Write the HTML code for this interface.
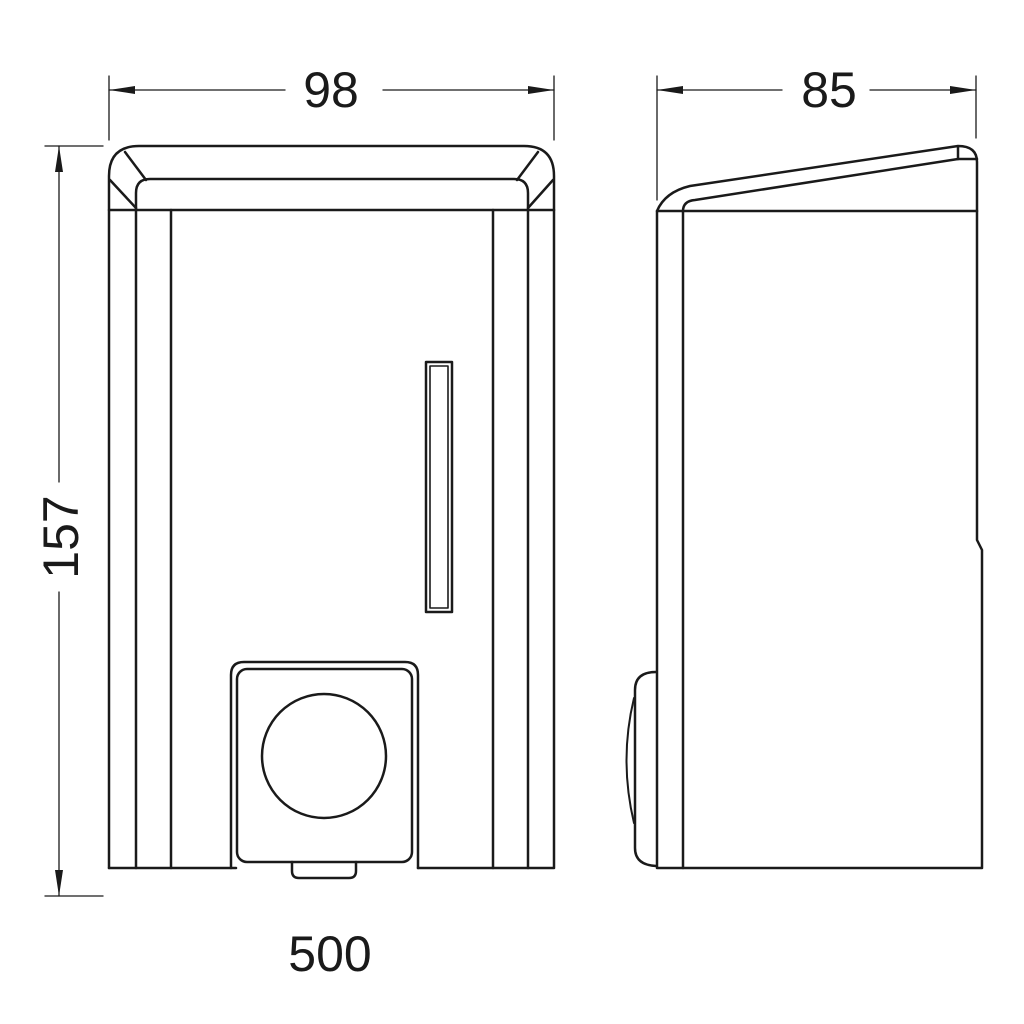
<!DOCTYPE html>
<html><head><meta charset="utf-8"><style>html,body{margin:0;padding:0;background:#fff}svg{display:block}</style></head>
<body>
<svg width="1024" height="1024" viewBox="0 0 1024 1024" xmlns="http://www.w3.org/2000/svg">
<g fill="none" stroke="#1a1a1a" stroke-linecap="round" stroke-linejoin="round">
<g stroke-width="1.3">
<line x1="109" y1="76" x2="109" y2="140"/>
<line x1="554" y1="76" x2="554" y2="140"/>
<line x1="109" y1="90" x2="285" y2="90"/>
<line x1="383" y1="90" x2="554" y2="90"/>
<line x1="657" y1="76" x2="657" y2="200"/>
<line x1="976" y1="76" x2="976" y2="138"/>
<line x1="657" y1="90" x2="782" y2="90"/>
<line x1="870" y1="90" x2="976" y2="90"/>
<line x1="45" y1="146" x2="103" y2="146"/>
<line x1="45" y1="896" x2="103" y2="896"/>
<line x1="59" y1="146" x2="59" y2="482"/>
<line x1="59" y1="592" x2="59" y2="896"/>
</g>
<g fill="#1a1a1a" stroke="none">
<polygon points="109,90 135,86 135,94"/>
<polygon points="554,90 528,86 528,94"/>
<polygon points="657,90 683,86 683,94"/>
<polygon points="976,90 950,86 950,94"/>
<polygon points="59,146 55,172 63,172"/>
<polygon points="59,896 55,870 63,870"/>
</g>
<g stroke-width="2.5">
<path d="M109,868 V176 Q109,146 139,146 H524 Q554,146 554,176 V868 H418"/>
<line x1="109" y1="868" x2="236" y2="868"/>
<path d="M136,210 V193 Q136,179 150,179 H514 Q528,179 528,193 V210"/>
<line x1="109" y1="210" x2="554" y2="210"/>
<line x1="125" y1="152" x2="146" y2="180"/>
<line x1="538" y1="152" x2="517" y2="180"/>
<line x1="110" y1="180" x2="136" y2="208"/>
<line x1="553" y1="180" x2="528" y2="208"/>
<line x1="136" y1="210" x2="136" y2="868"/>
<line x1="171" y1="210" x2="171" y2="868"/>
<line x1="493" y1="210" x2="493" y2="868"/>
<line x1="528" y1="210" x2="528" y2="868"/>
<rect x="426" y="362" width="26" height="250"/>
<rect x="430" y="366" width="18" height="242" stroke-width="1.6"/>
<path d="M231,868 V675 Q231,662 244,662 H405 Q418,662 418,675 V868"/>
<rect x="237" y="669" width="175" height="193" rx="10"/>
<circle cx="324" cy="756" r="62"/>
<path d="M292,862 V871 Q292,878 299,878 H349 Q356,878 356,871 V862"/>
<path d="M657,868 V211 Q665,192 690,186 L958,146 Q977,146 977,162 V540 L982,550 V868 Z"/>
<line x1="657" y1="211" x2="977" y2="211"/>
<path d="M683,868 V211 Q683,201 695,200 L958,159"/>
<line x1="958" y1="147" x2="958" y2="159"/>
<line x1="958" y1="159" x2="977" y2="159"/>
<path d="M656,672 Q635,672 635,690 V848 Q635,865 656,866"/>
<path d="M634,698 Q619,760 634,823" stroke-width="2"/>
</g>
</g>
<g font-family="'Liberation Sans', 'DejaVu Sans', sans-serif" font-size="50" fill="#1a1a1a" text-anchor="middle">
<text x="331" y="107">98</text>
<text x="829" y="107">85</text>
<text x="330" y="971">500</text>
<text transform="translate(78,537) rotate(-90)">157</text>
</g>
</svg>
</body></html>
